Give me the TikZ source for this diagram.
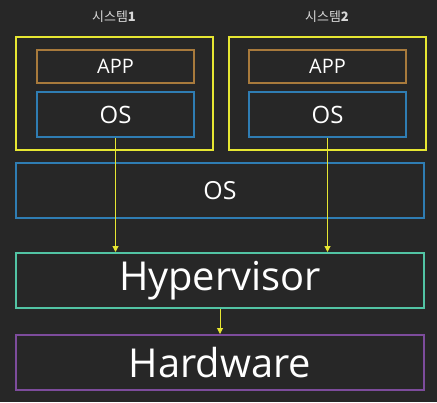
\documentclass[tikz,border=0pt]{standalone}
\usepackage{fontspec}
\setmainfont{Open Sans}
\newfontfamily\krfont{Noto Sans CJK KR}
\usetikzlibrary{arrows.meta}

\definecolor{bgdark}{HTML}{272727}
\definecolor{sysyellow}{HTML}{E6E632}
\definecolor{appbrown}{HTML}{A87A3C}
\definecolor{osblue}{HTML}{2F7DB3}
\definecolor{hypteal}{HTML}{52C4A4}
\definecolor{hwpurple}{HTML}{7D4C9C}
\definecolor{lblgray}{HTML}{D8D8D8}

\tikzset{
  layer/.style={draw, line width=2bp, rectangle, inner sep=0pt, text=white},
  syslabel/.style={text=lblgray, font=\krfont\fontsize{13}{15}\selectfont},
  flow/.style={draw=sysyellow, line width=1bp, -{Triangle[width=6bp,length=6bp]}}
}

\begin{document}
\begin{tikzpicture}[x=1bp,y=-1bp]
    \fill[bgdark] (0,0) rectangle (437,402);
    \useasboundingbox (0,0) rectangle (437,402);

    \node[syslabel] (lbla) at (114,17) {시스템\textbf{1}};
    \node[syslabel] (lblb) at (327,17) {시스템\textbf{2}};

    \node[layer, draw=sysyellow, minimum width=197bp, minimum height=113bp] (sysa) at (114.5,93.5) {};
    \node[layer, draw=sysyellow, minimum width=197bp, minimum height=113bp] (sysb) at (327,93.5) {};

    \node[layer, draw=appbrown, minimum width=157bp, minimum height=33bp, font=\fontsize{20}{24}\selectfont] (appa) at (115.5,66.5) {APP};
    \node[layer, draw=osblue, minimum width=157bp, minimum height=45bp, font=\fontsize{24}{28}\selectfont] (osa) at (115.5,114.5) {OS};
    \node[layer, draw=appbrown, minimum width=157bp, minimum height=33bp, font=\fontsize{20}{24}\selectfont] (appb) at (327.5,66.5) {APP};
    \node[layer, draw=osblue, minimum width=157bp, minimum height=45bp, font=\fontsize{24}{28}\selectfont] (osb) at (327.5,114.5) {OS};

    \node[layer, draw=osblue, minimum width=408bp, minimum height=55bp, font=\fontsize{25}{30}\selectfont] (host) at (220,190.5) {OS};
    \node[layer, draw=hypteal, minimum width=408bp, minimum height=55bp, font=\fontsize{40}{46}\selectfont] (hyp) at (220,280.5) {Hypervisor};
    \node[layer, draw=hwpurple, minimum width=408bp, minimum height=55bp, font=\fontsize{40}{46}\selectfont] (hw) at (220,362.5) {Hardware};

    \draw[flow] (osa.south) -- (osa.south |- hyp.north);
    \draw[flow] (osb.south) -- (osb.south |- hyp.north);
    \draw[flow] (hyp.south) -- (hw.north);
\end{tikzpicture}
\end{document}
